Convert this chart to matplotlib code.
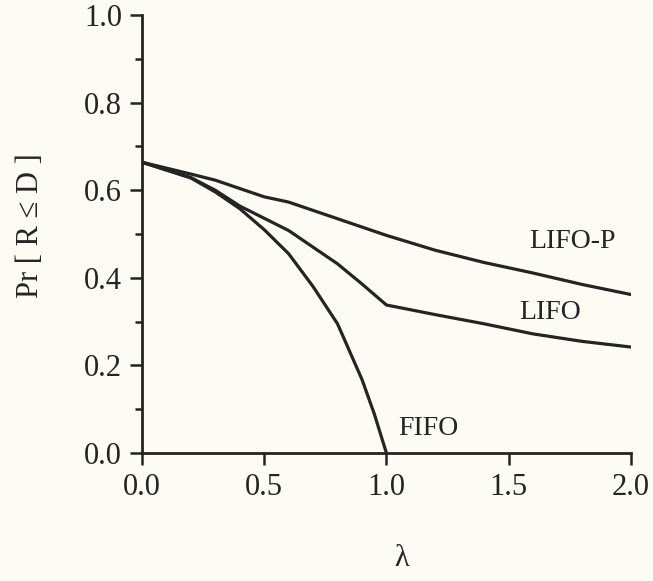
import matplotlib.pyplot as plt
from matplotlib.ticker import MultipleLocator

# values
lam_fifo = [0.0, 0.2, 0.3, 0.4, 0.5, 0.6, 0.7, 0.8, 0.9, 0.95, 1.0]
pr_fifo = [0.664, 0.628, 0.596, 0.558, 0.51, 0.455, 0.38, 0.295, 0.168, 0.09, 0.0]

lam_lifo = [0.0, 0.2, 0.3, 0.4, 0.6, 0.8, 0.9, 1.0, 1.2, 1.4, 1.6, 1.8, 2.0]
pr_lifo = [0.664, 0.629, 0.6, 0.564, 0.508, 0.432, 0.386, 0.338, 0.316, 0.295, 0.272, 0.255, 0.242]

lam_lifop = [0.0, 0.2, 0.3, 0.5, 0.6, 0.8, 1.0, 1.2, 1.4, 1.6, 1.8, 2.0]
pr_lifop = [0.664, 0.637, 0.623, 0.585, 0.573, 0.535, 0.497, 0.463, 0.435, 0.411, 0.385, 0.362]

labels = ['FIFO', 'LIFO', 'LIFO-P']
label_pos = [(1.17, 0.055), (1.67, 0.322), (1.76, 0.482)]

bg = '#fcfcf4'
ink = '#242424'
plt.rcParams['font.family'] = ['Liberation Serif', 'DejaVu Serif']

fig = plt.figure(figsize=(6.53, 5.81), dpi=100, facecolor=bg)
ax = fig.add_axes([0.2175, 0.2203, 0.7485, 0.7537], facecolor=bg)

for x, y in [(lam_fifo, pr_fifo), (lam_lifo, pr_lifo), (lam_lifop, pr_lifop)]:
    ax.plot(x, y, color=ink, lw=2.3, solid_joinstyle='round')

for name, (x, y) in zip(labels, label_pos):
    ax.text(x, y, name, fontsize=20, color=ink, ha='center', va='center')

ax.set_xlim(0, 2.0)
ax.set_ylim(0, 1.0)
ax.xaxis.set_major_locator(MultipleLocator(0.5))
ax.yaxis.set_major_locator(MultipleLocator(0.2))
ax.yaxis.set_minor_locator(MultipleLocator(0.1))
ax.xaxis.set_major_formatter(lambda v, p: f'{v:.1f}')
ax.yaxis.set_major_formatter(lambda v, p: f'{v:.1f}')

for s in ['top', 'right']:
    ax.spines[s].set_visible(False)
for s in ['left', 'bottom']:
    ax.spines[s].set_linewidth(2.0)
    ax.spines[s].set_color(ink)

ax.tick_params(which='major', length=8.5, width=1.8, color=ink, labelsize=22, pad=6, labelcolor=ink)
ax.tick_params(which='minor', length=5, width=1.8, color=ink)

ax.set_ylabel('Pr [ R ≤ D ]', fontsize=22, color=ink, va='center')
ax.yaxis.set_label_coords(-0.229, 0.52)
ax.set_xlabel('λ', fontsize=22, color=ink, va='center')
ax.xaxis.set_label_coords(0.532, -0.24)

fig.savefig('out.png', dpi=100, facecolor=bg)
